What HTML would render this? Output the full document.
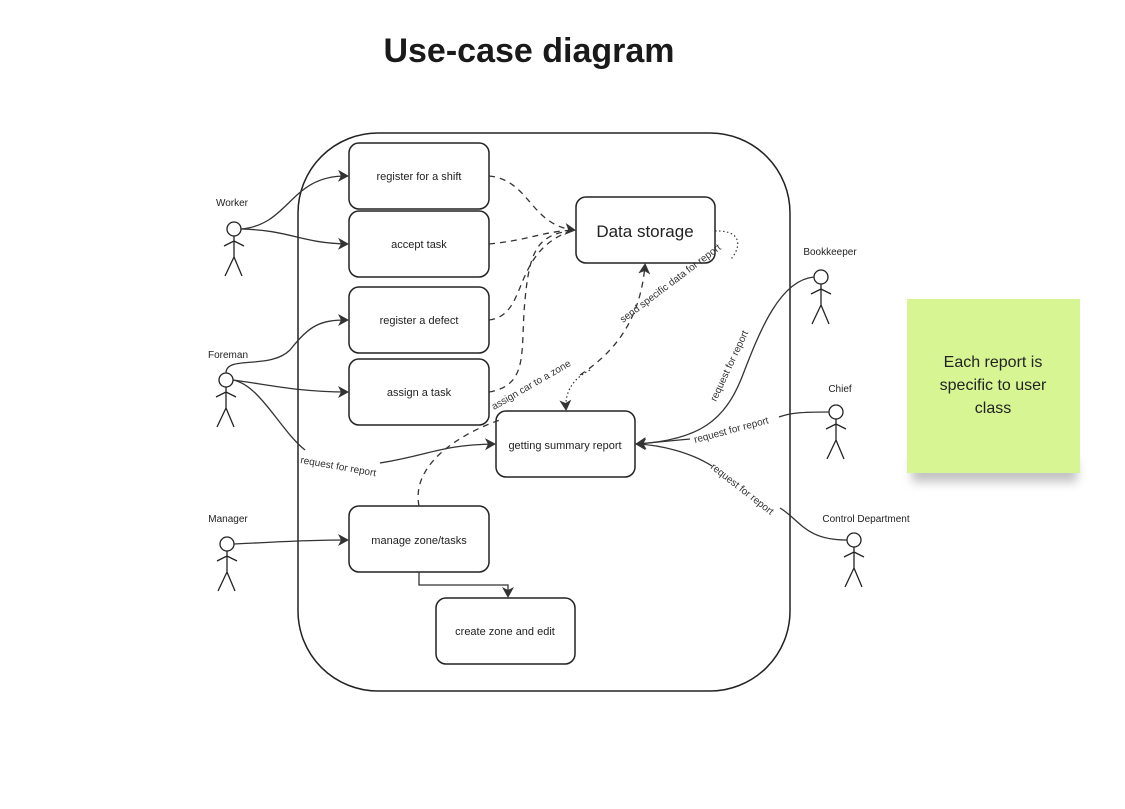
<!DOCTYPE html>
<html><head><meta charset="utf-8"><style>
body{margin:0;background:#fff;width:1125px;height:804px;overflow:hidden;font-family:"Liberation Sans",sans-serif}
</style></head><body>
<svg width="1125" height="804" viewBox="0 0 1125 804" xmlns="http://www.w3.org/2000/svg" font-family="Liberation Sans, DejaVu Sans, sans-serif">
<defs>
<marker id="a" markerWidth="12" markerHeight="12" refX="9" refY="6" orient="auto" markerUnits="userSpaceOnUse"><path d="M0,0 L11,6 L0,12 L3,6 z" fill="#333"/></marker>
<filter id="sh" x="-20%" y="-20%" width="140%" height="160%"><feGaussianBlur stdDeviation="5"/></filter>
</defs>
<text x="529" y="62" text-anchor="middle" font-size="34" font-weight="bold" fill="#1a1a1a">Use-case diagram</text>
<rect x="298" y="133" width="492" height="558" rx="80" fill="none" stroke="#222" stroke-width="1.5"/>
<g fill="#fff" stroke="#222" stroke-width="1.5">
<rect x="349" y="143" width="140" height="66" rx="10"/>
<rect x="349" y="211" width="140" height="66" rx="10"/>
<rect x="349" y="287" width="140" height="66" rx="10"/>
<rect x="349" y="359" width="140" height="66" rx="10"/>
<rect x="576" y="197" width="139" height="66" rx="10"/>
<rect x="496" y="411" width="139" height="66" rx="10"/>
<rect x="349" y="506" width="140" height="66" rx="10"/>
<rect x="436" y="598" width="139" height="66" rx="10"/>
</g>
<g font-size="11" fill="#222" text-anchor="middle">
<text x="419" y="180">register for a shift</text>
<text x="419" y="248">accept task</text>
<text x="419" y="324">register a defect</text>
<text x="419" y="396">assign a task</text>
<text x="645" y="237" font-size="17">Data storage</text>
<text x="565" y="449">getting summary report</text>
<text x="419" y="544">manage zone/tasks</text>
<text x="505" y="635">create zone and edit</text>
</g>
<g stroke="#222" stroke-width="1.3" fill="#fff">
<g transform="translate(234,229)"><circle r="7"/><path d="M0,7 V28 M-10,17 L0,12 L10,17 M0,28 L-9,47 M0,28 L8,47" fill="none"/></g>
<g transform="translate(226,380)"><circle r="7"/><path d="M0,7 V28 M-10,17 L0,12 L10,17 M0,28 L-9,47 M0,28 L8,47" fill="none"/></g>
<g transform="translate(227,544)"><circle r="7"/><path d="M0,7 V28 M-10,17 L0,12 L10,17 M0,28 L-9,47 M0,28 L8,47" fill="none"/></g>
<g transform="translate(821,277)"><circle r="7"/><path d="M0,7 V28 M-10,17 L0,12 L10,17 M0,28 L-9,47 M0,28 L8,47" fill="none"/></g>
<g transform="translate(836,412)"><circle r="7"/><path d="M0,7 V28 M-10,17 L0,12 L10,17 M0,28 L-9,47 M0,28 L8,47" fill="none"/></g>
<g transform="translate(854,540)"><circle r="7"/><path d="M0,7 V28 M-10,17 L0,12 L10,17 M0,28 L-9,47 M0,28 L8,47" fill="none"/></g>
</g>
<g font-size="10" fill="#222" text-anchor="middle">
<text x="232" y="206">Worker</text>
<text x="228" y="358">Foreman</text>
<text x="228" y="522">Manager</text>
<text x="830" y="255">Bookkeeper</text>
<text x="840" y="392">Chief</text>
<text x="866" y="522">Control Department</text>
</g>
<g fill="none" stroke="#333" stroke-width="1.3">
<path d="M241,229 C290,225 290,175 347,176" marker-end="url(#a)"/>
<path d="M241,229 C290,230 300,243 347,244" marker-end="url(#a)"/>
<path d="M226,373 C226,355 270,370 290,350 C310,325 320,320 347,320" marker-end="url(#a)"/>
<path d="M233,380 C270,385 300,392 347,392" marker-end="url(#a)"/>
<path d="M233,380 C260,385 280,430 305,450"/>
<path d="M380,463 C430,455 440,445 494,444" marker-end="url(#a)"/>
<path d="M234,544 C280,542 300,540 347,540" marker-end="url(#a)"/>
<path d="M419,572 V585 H508 V596" marker-end="url(#a)"/>
<path d="M814,277 C780,280 760,330 742,377 C725,420 700,440 637,444" marker-end="url(#a)"/>
<path d="M829,412 C800,412 790,413 779,417"/>
<path d="M690,439 L637,444" marker-end="url(#a)"/>
<path d="M847,540 C805,540 800,520 780,508"/>
<path d="M712,466 C690,452 660,445 637,444" marker-end="url(#a)"/>
</g>
<g fill="none" stroke="#333" stroke-width="1.3" stroke-dasharray="6,5">
<path d="M489,176 C530,180 530,225 574,230" marker-end="url(#a)"/>
<path d="M489,244 C530,240 540,232 574,230"/>
<path d="M489,320 C530,315 510,250 574,230"/>
<path d="M489,392 C530,385 520,350 525,300 C530,245 540,235 574,230"/>
<path d="M419,506 C410,460 470,430 500,420"/>
<path d="M580,375 C610,355 640,325 645,265" marker-end="url(#a)"/>
</g>
<g fill="none" stroke="#333" stroke-width="1.2" stroke-dasharray="1.5,2.5">
<path d="M715,231 C745,230 740,250 730,260"/>
<path d="M590,370 C570,380 565,395 566,409" marker-end="url(#a)"/>
</g>
<g font-size="10" fill="#333">
<text transform="translate(300,463) rotate(10)">request for report</text>
<text transform="translate(494,410) rotate(-30)">assign car to a zone</text>
<text transform="translate(623,323) rotate(-37)">send specific data for report</text>
<text transform="translate(716,402) rotate(-65)">request for report</text>
<text transform="translate(695,443) rotate(-15)">request for report</text>
<text transform="translate(710,468) rotate(38)">request for report</text>
</g>
<rect x="912" y="460" width="165" height="22" fill="#999" opacity="0.6" filter="url(#sh)"/>
<rect x="907" y="299" width="173" height="174" fill="#d7f693"/>
<g font-size="16" fill="#222" text-anchor="middle">
<text x="993" y="367">Each report is</text>
<text x="993" y="390">specific to user</text>
<text x="993" y="413">class</text>
</g>
</svg>
</body></html>
